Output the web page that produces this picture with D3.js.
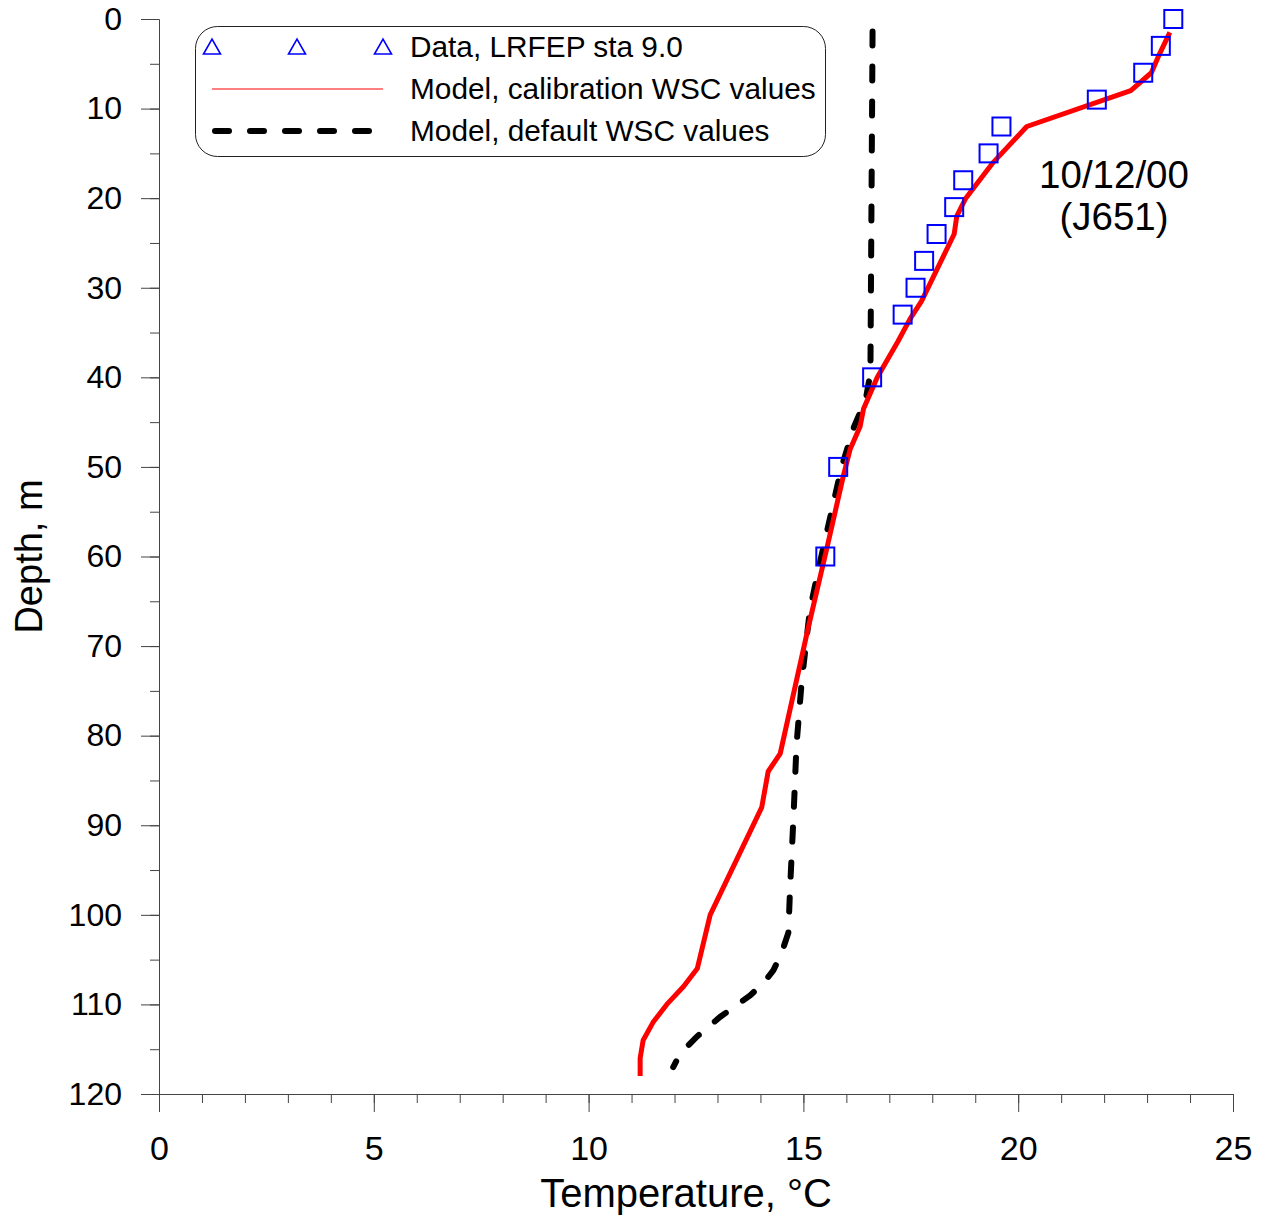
<!DOCTYPE html>
<html>
<head>
<meta charset="utf-8">
<script src="https://cdn.jsdelivr.net/npm/d3@7"></script>
<style>
  html, body { margin: 0; padding: 0; background: #fff; }
  svg { display: block; font-family: "Liberation Sans", Arial, Helvetica, sans-serif; }
</style>
</head>
<body>
<svg id="chart" width="1265" height="1216"></svg>
<script>
// ---- Data ----
const obsDepth = [0, 3, 6, 9, 12, 15, 18, 21, 24, 27, 30, 33, 40, 50, 60];
const obsTemp  = [23.61, 23.32, 22.91, 21.83, 19.61, 19.31, 18.72, 18.51, 18.10, 17.81, 17.61, 17.31, 16.60, 15.81, 15.51];

const calDepth = [1.5, 4, 6, 8, 12, 16, 20, 22, 24, 31.5, 33.5, 36, 40, 43.5, 45.5, 48, 51, 59, 68, 82, 84, 88, 100, 106, 108, 110, 112, 114, 116, 118];
const calTemp  = [23.53, 23.28, 23.10, 22.62, 20.20, 19.42, 18.78, 18.57, 18.51, 17.75, 17.48, 17.20, 16.72, 16.40, 16.32, 16.09, 15.93, 15.55, 15.11, 14.46, 14.18, 14.03, 12.83, 12.53, 12.21, 11.82, 11.50, 11.27, 11.20, 11.20];

const defDepth = [1.4, 39.5, 42.5, 45.5, 50, 54, 61, 66, 74, 81, 89, 97, 102, 104.3, 106.2, 107.6, 109, 111.4, 113.6, 115.5, 117];
const defTemp  = [16.61, 16.56, 16.45, 16.18, 15.89, 15.70, 15.37, 15.15, 14.96, 14.84, 14.77, 14.69, 14.65, 14.49, 14.30, 14.07, 13.76, 13.06, 12.52, 12.13, 11.97];

const xMajorTicks = [0, 5, 10, 15, 20, 25];
const xMinorTicks = d3.range(0, 26, 1);
const yMajorTicks = [0, 10, 20, 30, 40, 50, 60, 70, 80, 90, 100, 110, 120];
const yMinorTicks = d3.range(0, 121, 5);

const legendLabels = ["Data, LRFEP sta 9.0", "Model, calibration WSC values", "Model, default WSC values"];
const annotation = ["10/12/00", "(J651)"];

// ---- Layout ----
const svg = d3.select("#chart");
const mLeft = 159, mRight = 1233, mTop = 19, mBottom = 1094;

const x = d3.scaleLinear().domain([0, 25]).range([mLeft, mRight]);
const y = d3.scaleLinear().domain([0, 120]).range([mTop, mBottom]);

const axisColor = "#444";

// Y axis (minor + major)
const gy = svg.append("g").attr("transform", `translate(${mLeft},0)`);
gy.call(d3.axisLeft(y).tickValues(yMinorTicks).tickSize(9).tickSizeOuter(0).tickFormat(""));
gy.append("g").call(d3.axisLeft(y).tickValues(yMajorTicks).tickSize(18).tickSizeOuter(0).tickPadding(19).tickFormat(d3.format("d")));
gy.selectAll("path.domain").attr("stroke", axisColor);
gy.selectAll("line").attr("stroke", axisColor);
gy.selectAll("text").attr("font-size", 32).attr("fill", "#000").attr("font-family", "Liberation Sans, Arial, sans-serif");

// X axis (minor + major)
const gx = svg.append("g").attr("transform", `translate(0,${mBottom})`);
gx.call(d3.axisBottom(x).tickValues(xMinorTicks).tickSize(9).tickSizeOuter(0).tickFormat(""));
gx.append("g").call(d3.axisBottom(x).tickValues(xMajorTicks).tickSize(18).tickSizeOuter(0).tickPadding(24).tickFormat(d3.format("d")));
gx.selectAll("path.domain").attr("stroke", axisColor);
gx.selectAll("line").attr("stroke", axisColor);
gx.selectAll("text").attr("font-size", 34).attr("fill", "#000").attr("font-family", "Liberation Sans, Arial, sans-serif");

// Axis titles
svg.append("text")
  .attr("x", 686).attr("y", 1207)
  .attr("text-anchor", "middle")
  .attr("font-size", 40)
  .text("Temperature, \u00B0C");

svg.append("text")
  .attr("transform", `translate(42,${(mTop + mBottom) / 2}) rotate(-90)`)
  .attr("text-anchor", "middle")
  .attr("font-size", 38)
  .text("Depth, m");

// ---- Lines ----
const line = d3.line().x(d => x(d[1])).y(d => y(d[0]));

svg.append("path")
  .datum(defDepth.map((d, i) => [d, defTemp[i]]))
  .attr("d", line)
  .attr("fill", "none")
  .attr("stroke", "#000")
  .attr("stroke-width", 6)
  .attr("stroke-linecap", "round")
  .attr("stroke-dasharray", "14 21");

svg.append("path")
  .datum(calDepth.map((d, i) => [d, calTemp[i]]))
  .attr("d", line)
  .attr("fill", "none")
  .attr("stroke", "#ff0000")
  .attr("stroke-width", 5)
  .attr("stroke-linejoin", "round");

// Observed data (squares)
const sq = 18;
svg.append("g").selectAll("rect")
  .data(obsDepth.map((d, i) => [d, obsTemp[i]]))
  .join("rect")
  .attr("x", d => x(d[1]) - sq / 2)
  .attr("y", d => y(d[0]) - sq / 2)
  .attr("width", sq).attr("height", sq)
  .attr("fill", "none")
  .attr("stroke", "#0000ff")
  .attr("stroke-width", 2);

// Annotation
svg.append("g").selectAll("text")
  .data(annotation)
  .join("text")
  .attr("x", 1114)
  .attr("y", (d, i) => 188 + i * 42)
  .attr("text-anchor", "middle")
  .attr("font-size", 38.5)
  .text(d => d);

// ---- Legend ----
const lg = svg.append("g");
lg.append("rect")
  .attr("x", 195.5).attr("y", 26.5)
  .attr("width", 630).attr("height", 130)
  .attr("rx", 22).attr("ry", 22)
  .attr("fill", "#fff")
  .attr("stroke", "#222")
  .attr("stroke-width", 1);

const rowY = [47, 89, 131];
const symX0 = 212, symX1 = 383;

// triangles
const triXs = [212, 297, 383];
lg.selectAll("path.tri")
  .data(triXs)
  .join("path")
  .attr("class", "tri")
  .attr("d", d => `M${d - 8.5},${rowY[0] + 7} L${d + 8.5},${rowY[0] + 7} L${d},${rowY[0] - 8} Z`)
  .attr("fill", "none")
  .attr("stroke", "#0000ff")
  .attr("stroke-width", 1.6);

lg.append("line")
  .attr("x1", symX0).attr("x2", symX1)
  .attr("y1", rowY[1]).attr("y2", rowY[1])
  .attr("stroke", "#ff0000").attr("stroke-width", 1);

lg.append("line")
  .attr("x1", symX0 + 3).attr("x2", symX1)
  .attr("y1", rowY[2]).attr("y2", rowY[2])
  .attr("stroke", "#000").attr("stroke-width", 6)
  .attr("stroke-linecap", "round")
  .attr("stroke-dasharray", "14 21");

lg.selectAll("text")
  .data(legendLabels)
  .join("text")
  .attr("x", 410)
  .attr("y", (d, i) => rowY[i] + 10)
  .attr("font-size", 29.8)
  .text(d => d);
</script>
</body>
</html>
